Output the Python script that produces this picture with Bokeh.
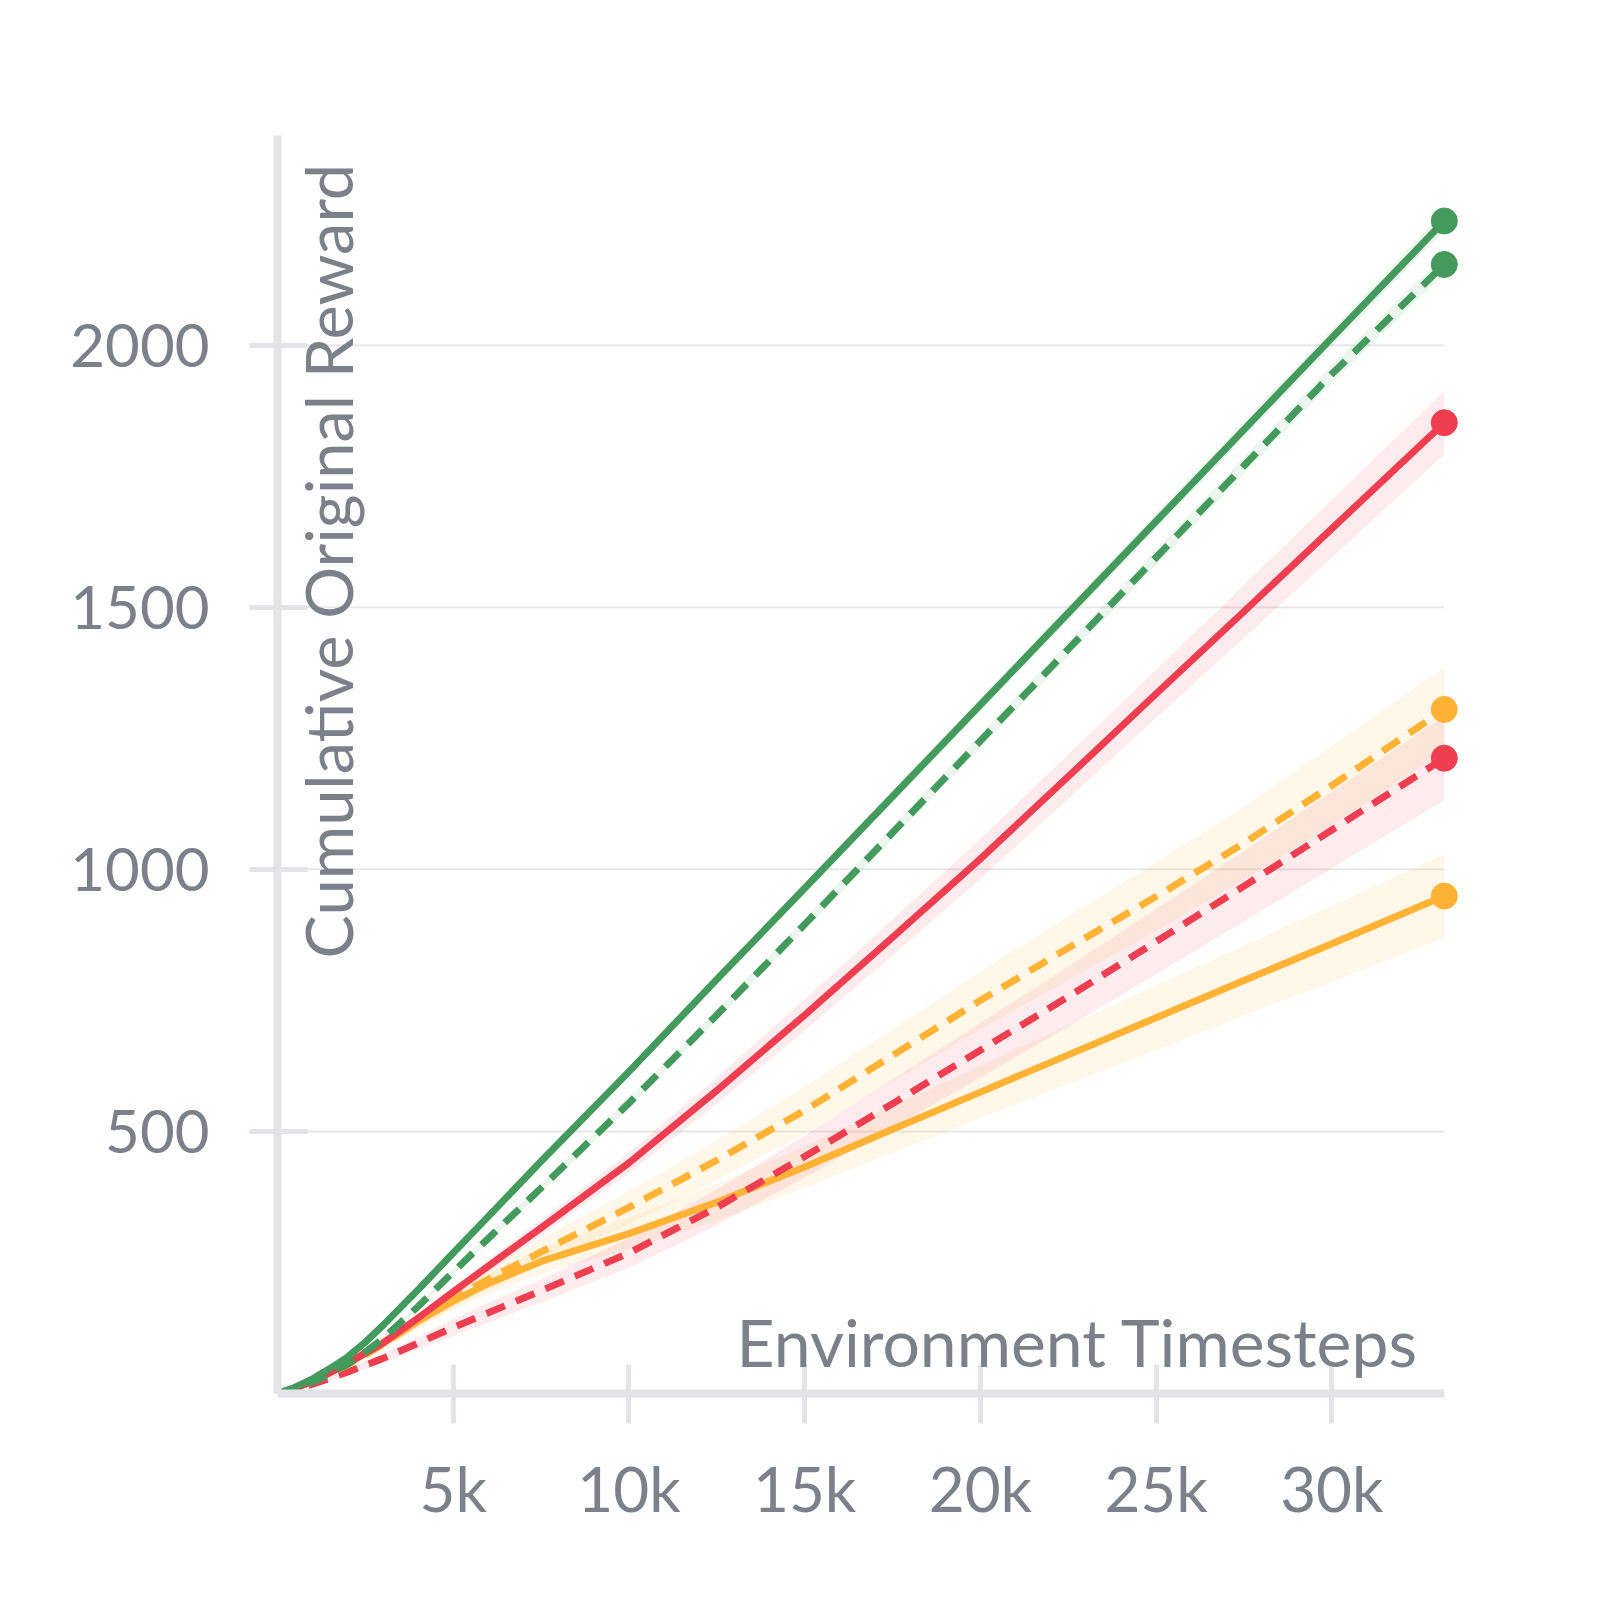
from bokeh.plotting import figure
from bokeh.models import Range1d, FixedTicker, Label
from bokeh.embed import file_html
from bokeh.resources import INLINE

# Environment timesteps at which the cumulative reward was logged
timesteps = [0, 500, 1000, 1500, 2000, 2500, 3000, 4000, 5000, 6000, 7500,
             10000, 12500, 15000, 17500, 20000, 22500, 25000, 27500, 30000, 33200]

# Mean cumulative original reward per run configuration
green_solid = [0, 12, 28, 48, 70, 98, 130, 198, 268, 338, 443,
               614, 790, 964, 1139, 1314, 1489, 1664, 1839, 2014, 2237]
green_dashed = [0, 10, 22, 38, 56, 79, 105, 166, 232, 296, 392,
                554, 722, 895, 1070, 1245, 1420, 1595, 1770, 1945, 2154]
red_solid = [0, 10, 24, 40, 58, 77, 96, 144, 194, 243, 316,
             440, 578, 722, 870, 1020, 1177, 1335, 1492, 1650, 1852]
orange_dashed = [0, 10, 23, 38, 55, 74, 94, 138, 182, 218, 270,
                 355, 445, 540, 645, 750, 850, 948, 1050, 1160, 1305]
red_dashed = [0, 8, 18, 29, 41, 54, 67, 96, 126, 154, 196,
              268, 355, 452, 553, 655, 757, 862, 968, 1075, 1212]
orange_solid = [0, 10, 24, 40, 58, 77, 96, 138, 176, 210, 252,
                305, 365, 432, 504, 575, 646, 717, 788, 858, 949]

# Half-width of the shaded spread around each mean curve
green_solid_err = [0, 1, 2, 2, 3, 3, 4, 5, 6, 7, 8,
                   9, 10, 11, 12, 13, 14, 15, 16, 17, 18]
green_dashed_err = [0, 1, 2, 2, 3, 3, 4, 5, 6, 7, 8,
                    9, 10, 11, 12, 13, 14, 15, 16, 17, 18]
red_solid_err = [0, 1, 2, 3, 4, 5, 6, 8, 10, 12, 15,
                 20, 25, 30, 34, 38, 42, 46, 50, 55, 60]
orange_dashed_err = [0, 2, 3, 5, 7, 9, 11, 14, 18, 21, 25,
                     32, 38, 45, 50, 55, 60, 65, 70, 75, 80]
red_dashed_err = [0, 2, 3, 4, 6, 7, 9, 12, 16, 19, 22,
                  28, 34, 40, 46, 52, 57, 62, 67, 73, 80]
orange_solid_err = [0, 2, 3, 5, 7, 8, 10, 13, 17, 20, 24,
                    30, 35, 40, 45, 50, 56, 62, 67, 73, 80]

x_ticks = [5000, 10000, 15000, 20000, 25000, 30000]
x_tick_labels = ["5k", "10k", "15k", "20k", "25k", "30k"]
y_ticks = [500, 1000, 1500, 2000]
y_tick_labels = ["500", "1000", "1500", "2000"]

GREEN = "#439a5c"
RED = "#ef3e50"
ORANGE = "#ffb234"
TEXT = "#7b808b"
AXIS = "#e4e4e8"
GRID = "#e8e8ea"
FONT = "Lato"

series = [
    (orange_solid, orange_solid_err, ORANGE, "solid"),
    (red_dashed, red_dashed_err, RED, "dashed"),
    (orange_dashed, orange_dashed_err, ORANGE, "dashed"),
    (red_solid, red_solid_err, RED, "solid"),
    (green_dashed, green_dashed_err, GREEN, "dashed"),
    (green_solid, green_solid_err, GREEN, "solid"),
]

p = figure(
    width=1600, height=1600,
    x_range=Range1d(0, 34230), y_range=Range1d(0, 2400),
    output_backend="svg", toolbar_location=None,
    min_border_left=277, min_border_right=120,
    min_border_top=135, min_border_bottom=207,
    background_fill_color="white", border_fill_color="white",
)
p.outline_line_color = None
p.xgrid.visible = False
p.ygrid.visible = False

x_end = timesteps[-1]

# horizontal guide lines at the reward ticks
p.segment(x0=[0] * len(y_ticks), x1=[x_end] * len(y_ticks), y0=y_ticks, y1=y_ticks,
          line_color=GRID, line_width=2)

# shaded spreads
for vals, err, color, dash in series:
    lo = [v - e for v, e in zip(vals, err)]
    hi = [v + e for v, e in zip(vals, err)]
    p.varea(x=timesteps, y1=lo, y2=hi, fill_color=color, fill_alpha=0.10)

# mean curves with end markers
for vals, err, color, dash in series:
    p.line(timesteps, vals, line_color=color, line_width=7,
           line_dash="solid" if dash == "solid" else "20 12", line_join="round")
    p.scatter([timesteps[-1]], [vals[-1]], size=26, fill_color=color, line_color=color)

# axes
xa = p.xaxis[0]
xa.ticker = FixedTicker(ticks=x_ticks)
xa.major_label_overrides = dict(zip(x_ticks, x_tick_labels))
xa.bounds = (0, x_end)
xa.axis_line_color = AXIS
xa.axis_line_width = 8
xa.major_tick_line_color = AXIS
xa.major_tick_line_width = 5
xa.major_tick_in = 29
xa.major_tick_out = 30
xa.minor_tick_line_color = None
xa.major_label_text_font = FONT
xa.major_label_text_font_size = "62px"
xa.major_label_text_color = TEXT
xa.major_label_standoff = 27

ya = p.yaxis[0]
ya.ticker = FixedTicker(ticks=y_ticks)
ya.major_label_overrides = dict(zip(y_ticks, y_tick_labels))
ya.axis_line_color = AXIS
ya.axis_line_width = 8
ya.major_tick_line_color = AXIS
ya.major_tick_line_width = 5
ya.major_tick_in = 30
ya.major_tick_out = 28
ya.minor_tick_line_color = None
ya.major_label_text_font = FONT
ya.major_label_text_font_size = "60px"
ya.major_label_text_color = TEXT
ya.major_label_standoff = 40

# axis titles placed inside the plotting area
p.add_layout(Label(x=32480, y=100, text="Environment Timesteps",
                   text_font=FONT, text_font_size="66px", text_color=TEXT,
                   text_align="right", text_baseline="alphabetic"))
p.add_layout(Label(x=1430, y=2346, text="Cumulative Original Reward", angle=1.5707963,
                   text_font=FONT, text_font_size="65px", text_color=TEXT,
                   text_align="right", text_baseline="alphabetic"))

open("out.html", "w").write(file_html(p, INLINE))
